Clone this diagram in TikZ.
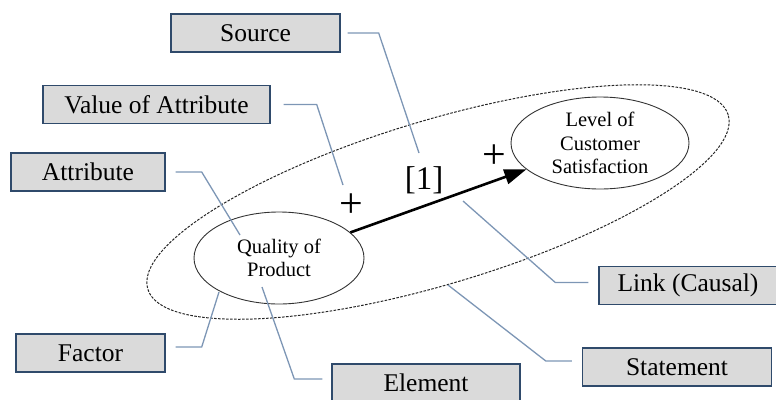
\documentclass[tikz,border=0pt]{standalone}
\usepackage{fontspec}
\setmainfont{Liberation Serif}
\newfontfamily\tagfont{Liberation Serif}
\usetikzlibrary{shapes.geometric,arrows.meta}
\definecolor{boxfill}{HTML}{DADADA}
\definecolor{boxline}{HTML}{2F4A6B}
\definecolor{callcol}{HTML}{7D96B5}
\tikzset{
  tag/.style={draw=boxline, line width=1.4pt, fill=boxfill, minimum height=38pt, inner sep=0pt, font=\tagfont\fontsize{25.5}{28}\selectfont},
  elem/.style={ellipse, draw=black!80, line width=0.9pt, inner sep=0pt, align=center, font=\tagfont\fontsize{20.5}{23.5}\selectfont},
  callout/.style={draw=callcol, line width=1.3pt},
  causal/.style={line width=2.6pt, -{Triangle[length=22pt,width=15pt]}},
  signlabel/.style={font=\tagfont\fontsize{42}{44}\selectfont, inner sep=0pt},
  srclabel/.style={font=\tagfont\fontsize{33}{36}\selectfont, inner sep=0pt}
}
\begin{document}
\begin{tikzpicture}[x=1pt,y=-1pt]
\useasboundingbox (0,0) rectangle (776,399);
\node[ellipse, draw=black!85, line width=1pt, dash pattern=on 2.6pt off 1.4pt, minimum width=606pt, minimum height=164pt, rotate=16.7] (stmt) at (438,202) {};
\node[elem, minimum width=170pt, minimum height=92pt] (quality) at (279,258) {Quality of\\Product};
\node[elem, minimum width=178pt, minimum height=92pt] (level) at (600,143) {Level of\\Customer\\Satisfaction};
\draw[causal] (quality) -- (level);
\node[signlabel] (plusA) at (351,206) {+};
\node[signlabel] (plusB) at (494.5,157) {+};
\node[srclabel] (src) at (424,180) {[1]};
\node[tag, minimum width=169pt] (source) at (255.5,33) {Source};
\node[tag, minimum width=227pt] (value) at (156.5,104.5) {Value of Attribute};
\node[tag, minimum width=154pt] (attr) at (88,172) {Attribute};
\node[tag, minimum width=149pt] (factor) at (90.5,353) {Factor};
\node[tag, minimum width=188pt] (element) at (426,383) {Element};
\node[tag, minimum width=178pt] (link) at (688,285.5) {Link (Causal)};
\node[tag, minimum width=189pt] (statement) at (677,367) {Statement};
\coordinate (sourcept) at (419,153);
\coordinate (valuept) at (343,185);
\coordinate (attrpt) at (240,235);
\coordinate (factorpt) at (219,292);
\coordinate (elementpt) at (262,287);
\coordinate (linkpt) at (463,201);
\coordinate (statementpt) at (448,285);
\draw[callout] ([xshift=7pt]source.east) -- ([xshift=38pt]source.east) -- (sourcept);
\draw[callout] ([xshift=13pt]value.east) -- ([xshift=46pt]value.east) -- (valuept);
\draw[callout] ([xshift=10pt]attr.east) -- ([xshift=36pt]attr.east) -- (attrpt);
\draw[callout] ([xshift=10pt,yshift=6pt]factor.east) -- ([xshift=36pt,yshift=6pt]factor.east) -- (factorpt);
\draw[callout] ([xshift=-9pt,yshift=4pt]element.west) -- ([xshift=-37pt,yshift=4pt]element.west) -- (elementpt);
\draw[callout] ([xshift=-10pt,yshift=3pt]link.west) -- ([xshift=-43pt,yshift=3pt]link.west) -- (linkpt);
\draw[callout] ([xshift=-10pt,yshift=6pt]statement.west) -- ([xshift=-36pt,yshift=6pt]statement.west) -- (statementpt);
\end{tikzpicture}
\end{document}
